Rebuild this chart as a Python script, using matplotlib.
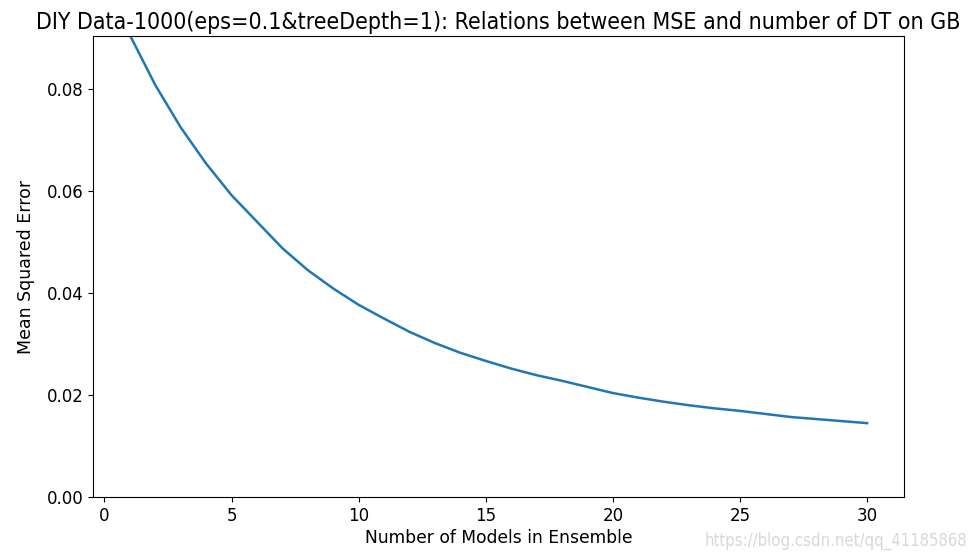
import matplotlib
matplotlib.use("Agg")
import matplotlib.pyplot as plt

n_models = list(range(1, 31))
mse = [0.0906, 0.0808, 0.0725, 0.0654, 0.0592, 0.0540, 0.0488, 0.0445, 0.0409, 0.0377,
       0.0350, 0.0324, 0.0302, 0.0283, 0.0267, 0.0252, 0.0239, 0.0228, 0.0216, 0.0204,
       0.0195, 0.0187, 0.0180, 0.0174, 0.0169, 0.0163, 0.0157, 0.0153, 0.0149, 0.0145]

title = "DIY Data-1000(eps=0.1&treeDepth=1): Relations between MSE and number of DT on GB"
xlabel = "Number of Models in Ensemble"
ylabel = "Mean Squared Error"
watermark = "https://blog.csdn.net/qq_41185868"

fig = plt.figure(figsize=(9.72, 5.56), dpi=100)
ax = fig.add_axes([0.0957, 0.106, 0.8343, 0.829])
ax.plot(n_models, mse, color="#1f77b4", linewidth=1.8)
ax.set_ylim(0, 0.0904)
ax.set_xticks([0, 5, 10, 15, 20, 25, 30])
ax.set_yticks([0.0, 0.02, 0.04, 0.06, 0.08])
ax.set_yticklabels(["0.00", "0.02", "0.04", "0.06", "0.08"])
ax.tick_params(labelsize=12)
ax.set_title(title, fontsize=16.6, fontstretch="condensed", pad=5)
ax.set_xlabel(xlabel, fontsize=12.3, labelpad=3)
ax.set_ylabel(ylabel, fontsize=12.5, labelpad=8)
fig.text(0.995, 0.027, watermark, ha="right", va="center", fontsize=12,
         fontstretch="condensed", color="#d8d8d8")
fig.savefig("out.png", dpi=100)
